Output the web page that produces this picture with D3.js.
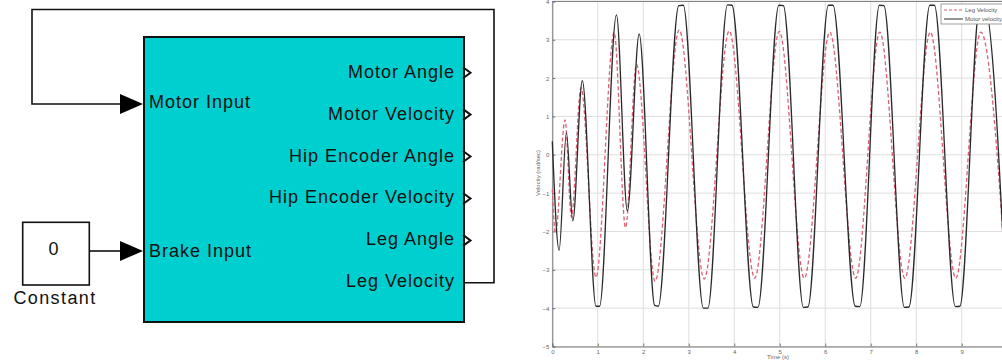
<!DOCTYPE html>
<html>
<head>
<meta charset="utf-8">
<script src="https://cdn.jsdelivr.net/npm/d3@7"></script>
<style>
  body { margin: 0; background: #fff; }
  svg { display: block; }
</style>
</head>
<body>
<div id="myChart"></div>
<script>
// block diagram labels
const inputLabels = ['Motor Input', 'Brake Input'];
const outputLabels = ['Motor Angle', 'Motor Velocity', 'Hip Encoder Angle', 'Hip Encoder Velocity', 'Leg Angle', 'Leg Velocity'];
const constantValue = '0';
const constantName = 'Constant';

// plot data
const motorT = [0, 0.15, 0.31, 0.45, 0.66, 0.96, 1.04, 1.41, 1.65, 1.91, 2.25, 2.33, 2.78, 2.88, 3.32, 3.42, 3.85, 3.95, 4.42, 4.52, 4.98, 5.08, 5.52, 5.62, 6.07, 6.17, 6.66, 6.76, 7.19, 7.29, 7.74, 7.84, 8.30, 8.40, 8.86, 8.96, 9.40, 9.50, 9.98];
const motorV = [0.35, -2.49, 0.58, -1.72, 1.93, -3.95, -3.95, 3.65, -1.46, 3.15, -3.93, -3.95, 3.89, 3.9, -4.0, -4.0, 3.91, 3.9, -3.97, -3.98, 3.9, 3.89, -3.98, -3.97, 3.9, 3.9, -3.95, -3.96, 3.9, 3.89, -3.98, -3.97, 3.9, 3.9, -3.96, -3.95, 3.9, 3.9, -3.95];
const legT = [0, 0.07, 0.28, 0.42, 0.63, 0.96, 1.36, 1.61, 1.85, 2.26, 2.79, 3.34, 3.89, 4.45, 4.99, 5.54, 6.10, 6.67, 7.20, 7.75, 8.31, 8.87, 9.42, 9.97];
const legV = [-0.9, -2.05, 0.91, -1.63, 1.75, -3.2, 3.19, -1.9, 2.36, -3.3, 3.26, -3.24, 3.23, -3.22, 3.22, -3.22, 3.2, -3.22, 3.2, -3.22, 3.2, -3.22, 3.2, -3.2];
const xGrid = [0, 1, 2, 3, 4, 5, 6, 7, 8, 9, 10];
const xTicks = [0, 1, 2, 3, 4, 5, 6, 7, 8, 9];
const yTicks = [-5, -4, -3, -2, -1, 0, 1, 2, 3, 4];
const seriesNames = ['Leg Velocity', 'Motor velocity'];

const svg = d3.select('#myChart')
  .append('svg')
  .attr('width', 1002)
  .attr('height', 360);

// ---------- simulink block ----------
const diag = svg.append('g').style('font-family', '"Liberation Sans", Arial, sans-serif');

diag.append('rect')
  .attr('x', 144).attr('y', 37)
  .attr('width', 320).attr('height', 285)
  .attr('fill', '#00cfcf')
  .attr('stroke', '#111')
  .attr('stroke-width', 2);

const inY = d3.scalePoint().domain(inputLabels).range([108.3, 256.7]);
const outY = d3.scalePoint().domain(outputLabels).range([77.7, 287.3]);
const line = d3.line();

diag.selectAll('text.in')
  .data(inputLabels)
  .enter()
  .append('text')
  .attr('class', 'in')
  .attr('x', 149)
  .attr('y', d => inY(d))
  .attr('fill', '#111')
  .style('font-size', '18px')
  .style('letter-spacing', '1px')
  .text(d => d);

diag.selectAll('text.out')
  .data(outputLabels)
  .enter()
  .append('text')
  .attr('class', 'out')
  .attr('x', 455)
  .attr('y', d => outY(d))
  .attr('text-anchor', 'end')
  .attr('fill', '#111')
  .style('font-size', '18px')
  .style('letter-spacing', '1px')
  .text(d => d);

// unconnected output ports
diag.selectAll('path.port')
  .data(outputLabels.slice(0, -1))
  .enter()
  .append('path')
  .attr('class', 'port')
  .attr('d', d => { const c = outY(d) - 5; return line([[463, c - 5.5], [470.5, c], [463, c + 5.5]]); })
  .attr('fill', 'none')
  .attr('stroke', '#111')
  .attr('stroke-width', 2);

// feedback wire Leg Velocity -> Motor Input
const fbOut = outY('Leg Velocity') - 4.6;
const fbIn = inY('Motor Input') - 4.3;
diag.append('path')
  .attr('d', line([[463, fbOut], [494, fbOut], [494, 9.5], [32, 9.5], [32, fbIn], [121, fbIn]]))
  .attr('fill', 'none')
  .attr('stroke', '#111')
  .attr('stroke-width', 1.6);

// constant block
diag.append('rect')
  .attr('x', 22.7).attr('y', 222.3)
  .attr('width', 66.6).attr('height', 62.7)
  .attr('fill', '#fff')
  .attr('stroke', '#111')
  .attr('stroke-width', 1.6);
diag.append('text')
  .attr('x', 53.5).attr('y', 255)
  .attr('text-anchor', 'middle')
  .attr('fill', '#111')
  .style('font-size', '18px')
  .text(constantValue);
diag.append('text')
  .attr('x', 55).attr('y', 304.3)
  .attr('text-anchor', 'middle')
  .attr('fill', '#111')
  .style('font-size', '18px')
  .style('letter-spacing', '1.4px')
  .text(constantName);

const brY = inY('Brake Input') - 5.7;
diag.append('path')
  .attr('d', line([[89, brY], [121, brY]]))
  .attr('stroke', '#111')
  .attr('stroke-width', 1.6);

// input arrowheads
diag.selectAll('path.arrow')
  .data([fbIn, brY])
  .enter()
  .append('path')
  .attr('class', 'arrow')
  .attr('d', c => line([[120, c - 10], [143, c], [120, c + 10]]) + 'Z')
  .attr('fill', '#000');

// ---------- velocity plot ----------
const x = d3.scaleLinear().domain([0, 10]).range([552.3, 1007.2]);
const y = d3.scaleLinear().domain([-5, 4]).range([346.5, 1.4]);

const plot = svg.append('g').style('font-family', '"Liberation Sans", Arial, sans-serif');

plot.selectAll('line.gx')
  .data(xGrid)
  .enter()
  .append('line')
  .attr('x1', d => x(d)).attr('x2', d => x(d))
  .attr('y1', y(4)).attr('y2', y(-5))
  .attr('stroke', '#dedede')
  .attr('stroke-width', 1);

plot.selectAll('line.gy')
  .data(yTicks)
  .enter()
  .append('line')
  .attr('x1', x(0)).attr('x2', x(10))
  .attr('y1', d => y(d)).attr('y2', d => y(d))
  .attr('stroke', '#dedede')
  .attr('stroke-width', 1);

const xAxis = plot.append('g')
  .attr('transform', 'translate(0,' + y(-5) + ')')
  .call(d3.axisBottom(x).tickValues(xTicks).tickSize(-3).tickPadding(3).tickFormat(d3.format('d')));
const yAxis = plot.append('g')
  .attr('transform', 'translate(' + x(0) + ',0)')
  .call(d3.axisLeft(y).tickValues(yTicks).tickSize(-3).tickPadding(3).tickFormat(d3.format('d')));
plot.append('line')
  .attr('x1', x(0)).attr('x2', x(10))
  .attr('y1', y(4)).attr('y2', y(4))
  .attr('stroke', '#777');

[xAxis, yAxis].forEach(a => {
  a.select('.domain').attr('stroke', '#777');
  a.selectAll('.tick line').attr('stroke', '#777');
  a.selectAll('.tick text').attr('fill', '#666').style('font-size', '6px').style('font-family', '"Liberation Sans", Arial, sans-serif');
});

plot.append('text')
  .attr('x', 778).attr('y', 359)
  .attr('text-anchor', 'middle')
  .attr('fill', '#666')
  .style('font-size', '6px')
  .text('Time (s)');
plot.append('text')
  .attr('transform', 'translate(540,173) rotate(-90)')
  .attr('text-anchor', 'middle')
  .attr('fill', '#666')
  .style('font-size', '6px')
  .text('Velocity (rad/sec)');

const curve = d3.line()
  .x((d) => x(d[0]))
  .y((d) => y(d[1]))
  .curve(d3.curveMonotoneX);

const legData = legT.map((t, i) => [t, legV[i]]);
const motorData = motorT.map((t, i) => [t, motorV[i]]);

plot.append('path')
  .datum(legData)
  .attr('d', curve)
  .attr('fill', 'none')
  .attr('stroke', '#dd5f72')
  .attr('stroke-width', 1.3)
  .attr('stroke-dasharray', '4,2.5');

plot.append('path')
  .datum(motorData)
  .attr('d', curve)
  .attr('fill', 'none')
  .attr('stroke', '#2a2a2a')
  .attr('stroke-width', 1.3);

// legend
const leg = plot.append('g');
leg.append('rect')
  .attr('x', 941).attr('y', 4)
  .attr('width', 70).attr('height', 20)
  .attr('fill', '#fff')
  .attr('stroke', '#888')
  .attr('stroke-width', 0.8);
leg.selectAll('line.sample')
  .data(seriesNames)
  .enter()
  .append('line')
  .attr('x1', 944).attr('x2', 963)
  .attr('y1', (d, i) => 10 + i * 9).attr('y2', (d, i) => 10 + i * 9)
  .attr('stroke', (d, i) => i === 0 ? '#dd5f72' : '#2a2a2a')
  .attr('stroke-width', 1)
  .attr('stroke-dasharray', (d, i) => i === 0 ? '3,2' : null);
leg.selectAll('text.lab')
  .data(seriesNames)
  .enter()
  .append('text')
  .attr('x', 965)
  .attr('y', (d, i) => 12 + i * 9)
  .attr('fill', '#555')
  .style('font-size', '6px')
  .text(d => d);
</script>
</body>
</html>
